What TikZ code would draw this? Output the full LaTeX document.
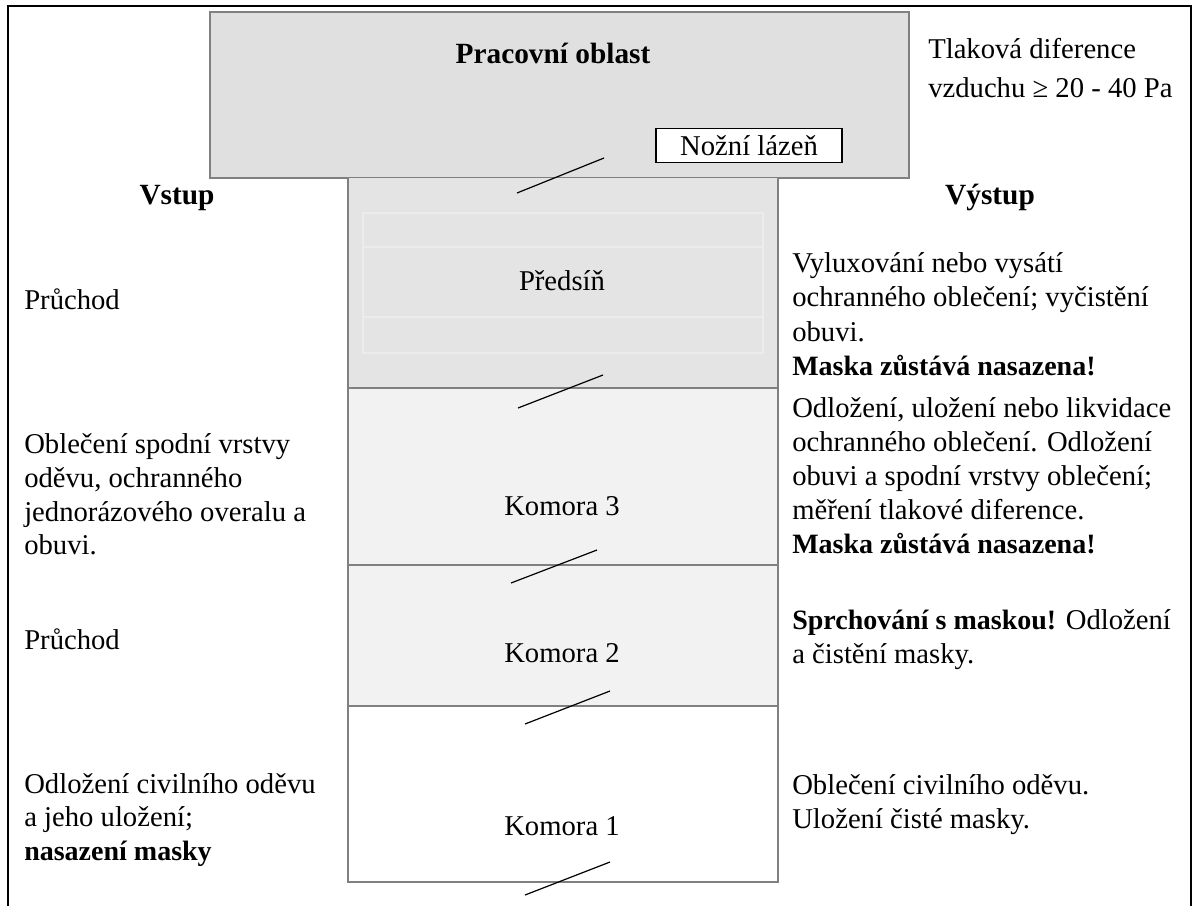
\documentclass[tikz,border=0pt]{standalone}
\usepackage{fontspec}
\setmainfont{Liberation Serif}
\begin{document}
\begin{tikzpicture}[x=0.75pt,y=-0.75pt,
  txt/.style={anchor=base west,inner sep=0pt,font=\fontsize{21.5}{25}\selectfont},
  btxtl/.style={anchor=base west,inner sep=0pt,font=\fontsize{21}{25}\selectfont\bfseries},
  ctxt/.style={anchor=base,inner sep=0pt,font=\fontsize{21.5}{25}\selectfont},
  btxt/.style={anchor=base,inner sep=0pt,font=\fontsize{22}{25}\selectfont\bfseries},
  wall/.style={draw=black!50,line width=1.2pt},
  door/.style={draw=black,line width=0.9pt},
  faint/.style={draw=black!7.5,line width=0.8pt}]
\useasboundingbox (0,0) rectangle (1194,906);
% frame
\draw[line width=1pt] (8,906) -- (8,6) -- (1191,6) -- (1191,906);
% top box
\fill[fill=black!12] (210,12) rectangle (909,178);
\draw[wall] (210,12) rectangle (909,178);
% chambers
\fill[black!10.5] (348,178) rectangle (778,388);
\fill[black!5] (348,388) rectangle (778,706);
\draw[faint] (363,213) rectangle (763,353);
\draw[faint] (363,247) -- (763,247);
\draw[faint] (363,317) -- (763,317);
\draw[wall] (348,178) -- (348,882) -- (778,882) -- (778,178);
\draw[wall] (348,388) -- (778,388);
\draw[wall] (348,565) -- (778,565);
\draw[wall] (348,706) -- (778,706);
% labels in boxes
\node[btxt] (pracovni) at (553,64) {Pracovní oblast};
\node[draw=black,fill=white,line width=0.8pt,minimum width=139.5pt,minimum height=26pt,inner sep=0pt,font=\fontsize{21.5}{25}\selectfont] (lazen) at (749,145.5) {Nožní lázeň};
\node[ctxt] (predsin) at (562,290) {Předsíň};
\node[ctxt] (k3) at (562,515) {Komora 3};
\node[ctxt] (k2) at (562,662) {Komora 2};
\node[ctxt] (k1) at (562,835) {Komora 1};
% doors
\draw[door] (517,193) -- (604,158);
\draw[door] (518,408) -- (603,375);
\draw[door] (511,583) -- (597,550);
\draw[door] (525,724) -- (610,691);
\draw[door] (525,895) -- (610,862);
% top right
\node[txt] (t1) at (928,59) {Tlaková diference};
\node[txt] (t2) at (928,97) {vzduchu ≥ 20 - 40 Pa};
% headings
\node[btxt] (vstup) at (177,204) {Vstup};
\node[btxt] (vystup) at (990,204) {Výstup};
% left column
\node[txt] (a1) at (24,309) {Průchod};
\node[txt] (b1) at (24,453) {Oblečení spodní vrstvy};
\node[txt] (b2) at (24,487) {oděvu, ochranného};
\node[txt] (b3) at (24,521) {jednorázového overalu a};
\node[txt] (b4) at (24,554) {obuvi.};
\node[txt] (c1) at (24,649) {Průchod};
\node[txt] (d1) at (24,793) {Odložení civilního oděvu};
\node[txt] (d2) at (24,826) {a jeho uložení;};
\node[btxtl] (d3) at (24,860) {nasazení masky};
% right column
\node[txt] (e1) at (792,272) {Vyluxování nebo vysátí};
\node[txt] (e2) at (792,306) {ochranného oblečení; vyčistění};
\node[txt] (e3) at (792,341) {obuvi.};
\node[btxtl] (e4) at (792,375) {Maska zůstává nasazena!};
\node[txt] (f1) at (792,417) {Odložení, uložení nebo likvidace};
\node[txt] (f2) at (792,451) {ochranného oblečení. Odložení};
\node[txt] (f3) at (792,485) {obuvi a spodní vrstvy oblečení;};
\node[txt] (f4) at (792,519) {měření tlakové diference.};
\node[btxtl] (f5) at (792,553) {Maska zůstává nasazena!};
\node[txt] (g1) at (792,629) {{\fontsize{21}{25}\selectfont\bfseries Sprchování s maskou!} Odložení};
\node[txt] (g2) at (792,663) {a čistění masky.};
\node[txt] (h1) at (792,794) {Oblečení civilního oděvu.};
\node[txt] (h2) at (792,828) {Uložení čisté masky.};
\end{tikzpicture}
\end{document}
